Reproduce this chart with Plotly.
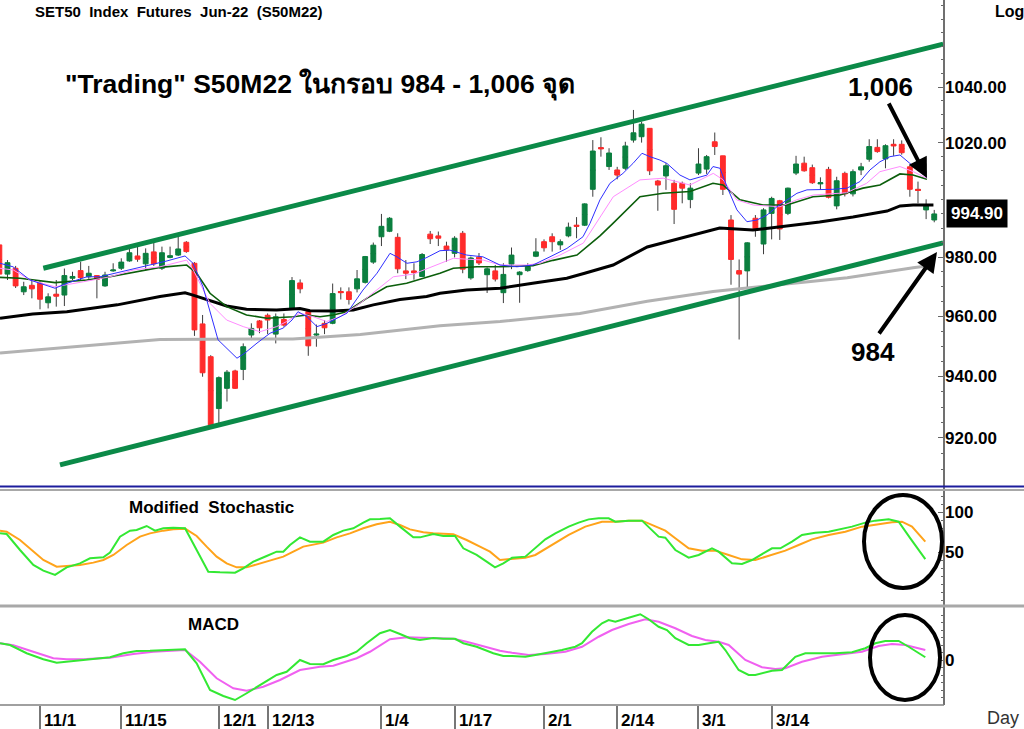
import math
import plotly.graph_objects as go

# ---------------- data ----------------
day_idx = list(range(116))
open_ = [984.2, 974.2, 976.2, 968.2, 970.4, 971.1, 964.5, 967.4, 967.1, 972.8,
         975.4, 973.3, 973.7, 970.2, 975.3, 976.2, 978.7, 980.4, 977.7, 981.8,
         976.2, 979.9, 980.7, 985.1, 977.9, 957.4, 946.5, 929.5, 936.1, 941.8,
         942.3, 953.7, 958.4, 960.3, 954.0, 958.9, 962.6, 971.2, 961.5, 953.7,
         957.6, 957.6, 968.3, 968.2, 969.2, 971.4, 978.3, 987.0, 988.9, 986.8,
         975.3, 975.3, 973.4, 987.9, 987.3, 983.8, 981.3, 988.2, 972.9, 980.0,
         974.0, 975.3, 967.9, 977.6, 974.0, 975.4, 980.3, 985.3, 987.0, 984.2,
         987.3, 991.0, 991.0, 1003.5, 1018.2, 1011.5, 1010.3, 1010.9, 1020.9, 1022.1,
         1025.1, 1006.4, 1008.2, 1005.6, 1005.6, 999.9, 1009.2, 1010.6, 1020.3, 1015.3,
         992.8, 975.4, 975.3, 993.4, 984.5, 995.1, 999.5, 995.1, 1009.2, 1012.7,
         1011.1, 1005.4, 1010.5, 997.7, 1009.1, 1001.9, 1010.3, 1014.1, 1018.3, 1014.2,
         1019.4, 1019.4, 1011.4, 1003.5, 996.3, 992.8]
high = [985.5, 979.0, 977.0, 971.6, 972.2, 971.8, 967.7, 972.2, 976.1, 975.0,
        978.4, 977.0, 973.9, 975.0, 977.9, 979.6, 983.0, 983.6, 983.0, 984.9,
        983.6, 983.6, 987.0, 985.5, 978.3, 960.4, 947.0, 940.0, 942.1, 942.2,
        950.9, 957.6, 958.7, 960.9, 960.9, 960.9, 973.2, 972.4, 961.8, 957.2,
        958.7, 971.0, 969.7, 969.7, 975.6, 980.4, 985.0, 994.9, 993.8, 988.2,
        979.0, 977.9, 981.4, 989.0, 988.8, 985.3, 987.2, 989.0, 980.2, 981.4,
        976.5, 977.3, 977.9, 983.3, 975.2, 977.9, 986.5, 986.1, 988.2, 986.1,
        991.9, 993.8, 998.6, 1020.9, 1021.9, 1018.0, 1011.4, 1020.3, 1031.7, 1027.5,
        1025.2, 1006.8, 1012.7, 1006.8, 1006.2, 1005.6, 1018.0, 1015.6, 1023.6, 1015.3,
        994.5, 979.2, 985.1, 994.5, 996.9, 1000.9, 999.8, 1004.1, 1015.3, 1015.0,
        1012.2, 1007.7, 1011.4, 1007.9, 1009.7, 1010.5, 1012.8, 1021.2, 1021.2, 1019.4,
        1021.2, 1020.8, 1012.1, 1006.2, 1000.0, 996.3]
low = [973.5, 972.2, 969.5, 967.1, 966.0, 962.3, 962.6, 963.2, 963.4, 972.2,
       972.2, 972.6, 966.0, 969.9, 975.0, 975.6, 978.4, 978.4, 975.4, 977.0,
       975.6, 979.6, 980.4, 981.5, 953.4, 939.9, 923.8, 924.2, 931.8, 935.9,
       938.8, 952.0, 954.3, 954.0, 950.9, 956.5, 962.1, 967.7, 946.8, 949.8,
       954.0, 957.3, 965.6, 963.9, 968.0, 971.0, 977.7, 983.8, 988.6, 974.5,
       972.5, 972.3, 973.2, 984.5, 983.8, 978.4, 979.9, 974.5, 972.3, 977.3,
       967.8, 971.7, 964.4, 975.9, 964.5, 975.0, 980.0, 981.9, 981.9, 982.5,
       986.8, 986.5, 990.7, 1000.9, 1015.0, 1010.3, 1007.0, 1010.3, 1020.0, 1020.0,
       1008.5, 996.0, 1003.3, 991.4, 998.6, 996.9, 1008.5, 1008.9, 1015.6, 1001.5,
       970.6, 952.2, 969.5, 987.0, 981.0, 986.1, 985.9, 994.5, 1008.5, 1009.7,
       1005.4, 1003.3, 1000.3, 996.5, 1001.0, 1001.0, 1008.5, 1013.2, 1016.4, 1010.9,
       1015.3, 1015.7, 1000.9, 998.6, 993.1, 992.0]
close = [974.2, 978.1, 970.2, 969.9, 969.2, 965.7, 966.5, 966.7, 973.7, 973.4,
         973.0, 974.5, 972.4, 973.9, 975.6, 978.3, 981.5, 979.3, 981.3, 977.7,
         981.5, 980.5, 982.8, 981.9, 955.4, 941.2, 924.2, 939.6, 941.4, 936.1,
         949.8, 955.9, 956.1, 958.7, 959.8, 957.0, 972.0, 969.2, 950.1, 954.0,
         956.1, 967.6, 967.9, 965.6, 972.6, 980.2, 984.1, 990.6, 993.4, 976.0,
         974.5, 974.7, 980.9, 986.3, 986.5, 982.5, 986.5, 975.9, 979.7, 978.0,
         976.0, 972.5, 974.1, 980.7, 974.9, 976.8, 981.8, 983.2, 985.3, 985.3,
         990.3, 990.6, 998.4, 1017.0, 1017.8, 1016.3, 1008.5, 1018.8, 1023.5, 1026.6,
         1010.0, 1005.0, 1011.8, 996.5, 1003.9, 1003.9, 1012.4, 1015.0, 1018.6, 1003.5,
         979.2, 974.2, 984.9, 989.7, 996.3, 1000.3, 989.7, 1003.9, 1012.4, 1010.0,
         1005.8, 1005.8, 1000.7, 1006.5, 1001.9, 1009.7, 1011.4, 1018.6, 1016.8, 1018.9,
         1018.8, 1016.4, 1003.5, 1003.1, 997.7, 994.9]

tick_idx = [5, 15, 27, 33, 47, 56, 67, 76, 86, 95]
tick_labels = ["11/1", "11/15", "12/1", "12/13", "1/4", "1/17", "2/1", "2/14", "3/1", "3/14"]

# moving averages
blue_x = [0.08, 1.68, 3.77, 6.85, 8.32, 10.78, 12.38, 13.6, 16.07, 18.16, 20.62, 22.84, 23.82, 25.05, 26.9,
          29.23, 30.2, 31.69, 33.3, 34.9, 36.0, 36.73, 37.84, 39.07, 40.3, 41.53, 42.76, 44.73, 46.45, 48.05,
          48.91, 50.14, 51.37, 52.6, 54.2, 55.43, 56.66, 57.5, 59.49, 61.58, 63.67, 65.64, 67.73, 69.82, 71.79,
          72.65, 73.88, 75.11, 76.71, 77.94, 79.05, 80.03, 81.26, 82.12, 83.72, 84.95, 87.04, 87.78, 88.64, 89.5,
          90.73, 91.96, 93.19, 94.42, 95.65, 96.88, 98.11, 99.34, 100.94, 102.54, 104.26, 105.86, 107.09, 108.32,
          109.55, 110.78, 112.01, 113.24, 114.1]
blue_y = [977.9, 976.7, 972.2, 969.4, 971.1, 973.3, 973.3, 974.1, 975.6, 977.0, 978.7, 980.4, 977.9, 969.9, 952.1,
          946.0, 947.7, 951.0, 954.3, 956.0, 958.7, 961.5, 959.8, 956.5, 957.6, 959.3, 961.0, 968.8, 974.5, 981.3,
          980.1, 977.9, 978.4, 979.9, 982.2, 982.4, 981.3, 980.7, 980.1, 977.3, 976.7, 977.3, 980.1, 983.0, 987.0,
          991.6, 999.8, 1005.6, 1009.1, 1012.6, 1016.2, 1015.0, 1013.8, 1012.6, 1008.5, 1006.8, 1008.5, 1011.5, 1010.9, 1004.4,
          996.3, 992.2, 992.8, 994.5, 997.4, 999.8, 1002.1, 1003.3, 1003.3, 1003.5, 1003.9, 1006.2, 1010.3, 1013.2,
          1015.0, 1015.6, 1012.6, 1009.7, 1007.7]
pink_x = [0.08, 1.72, 3.77, 6.85, 10.33, 13.61, 16.48, 19.76, 23.04, 23.86, 25.91, 27.96, 30.0, 32.06, 34.11,
          35.35, 36.98, 38.62, 40.26, 41.9, 44.36, 46.41, 48.46, 50.92, 54.2, 55.84, 57.48, 59.53, 61.58, 64.86,
          66.5, 68.96, 71.83, 73.88, 75.52, 78.8, 81.67, 84.95, 87.82, 89.05, 90.7, 92.74, 96.02, 98.07, 100.12,
          104.23, 106.68, 108.32, 110.78, 112.42, 114.06]
pink_y = [976.2, 975.6, 972.2, 969.9, 971.6, 973.3, 975.6, 976.7, 979.0, 975.6, 964.3, 958.7, 956.5, 954.8, 956.5,
          958.2, 961.0, 959.8, 958.2, 959.8, 964.3, 968.8, 973.3, 974.2, 977.9, 979.6, 979.3, 979.0, 977.3, 977.3,
          977.9, 980.7, 984.8, 993.9, 1000.9, 1006.8, 1007.4, 1005.0, 1009.1, 1006.8, 999.8, 998.0, 997.4, 999.8, 1001.5,
          1002.3, 1005.6, 1009.7, 1011.5, 1009.7, 1007.4]
dgreen_x = [0.08, 2.54, 6.85, 10.74, 13.61, 16.44, 19.76, 23.04, 24.27, 25.91, 27.96, 30.4, 32.9, 36.16, 37.8,
            39.44, 41.08, 42.72, 45.18, 47.64, 50.1, 54.2, 55.84, 58.75, 61.58, 65.64, 68.1, 71.05, 73.88, 75.48,
            78.8, 81.63, 84.95, 87.78, 89.01, 91.1, 93.93, 96.88, 100.08, 103.4, 106.23, 108.32, 110.78, 112.38, 114.1]
dgreen_y = [973.1, 972.8, 971.3, 972.2, 973.3, 974.7, 976.5, 977.3, 974.5, 967.7, 963.2, 960.4, 959.3, 959.8, 960.4,
            959.8, 960.4, 961.5, 966.0, 969.9, 971.1, 974.5, 976.2, 976.7, 976.7, 977.1, 978.9, 980.7, 987.3, 991.6,
            1000.9, 1002.1, 1002.7, 1005.6, 1005.0, 999.8, 998.0, 998.0, 1000.9, 1001.5, 1003.9, 1005.0, 1008.9, 1008.5, 1007.0]
black_x = [0.08, 4.1, 8.3, 14.5, 19.76, 22.84, 23.82, 25.91, 27.96, 30.4, 34.1, 36.98, 38.2, 41.08, 43.54,
           46.0, 49.28, 52.56, 54.2, 57.5, 61.6, 65.6, 69.8, 72.0, 75.5, 79.7, 84.6, 88.6, 92.7, 96.9,
           100.9, 105.0, 109.2, 110.8, 112.4, 114.9]
black_y = [959.3, 960.7, 961.5, 963.8, 966.6, 967.9, 967.1, 965.2, 963.4, 962.3, 962.1, 962.6, 961.8, 961.7, 962.1,
           963.8, 965.6, 966.6, 967.7, 968.8, 969.4, 971.1, 972.8, 974.5, 977.3, 983.5, 987.0, 990.0, 989.3, 990.7,
           992.1, 993.8, 995.9, 997.7, 998.0, 998.0]
gray_x = [0.08, 19.76, 36.1, 44.4, 54.2, 61.6, 71.4, 79.7, 87.8, 96.0, 104.3, 112.4, 115.0]
gray_y = [947.7, 952.2, 952.4, 953.9, 956.8, 958.2, 960.9, 965.0, 968.3, 970.6, 973.0, 976.4, 977.3]

# trend channel end points
chan_up_x = [5.41, 116.1]
chan_up_y = [976.2, 1055.7]
chan_lo_x = [7.46, 116.1]
chan_lo_y = [911.4, 984.9]

# modified stochastic
stk_x = [0.08, 0.9, 2.54, 4.18, 5.41, 6.85, 8.28, 9.92, 11.15, 12.79, 13.61, 14.84, 16.07, 16.89, 18.12,
         19.15, 20.17, 21.4, 22.84, 24.27, 25.7, 27.14, 28.99, 30.01, 31.24, 32.88, 34.11, 34.93, 35.75, 36.98,
         38.21, 39.85, 41.08, 42.31, 43.54, 44.77, 45.59, 46.82, 48.05, 49.28, 50.92, 51.74, 53.38, 54.61, 56.05,
         57.07, 58.71, 59.94, 60.97, 61.99, 63.06, 64.7, 65.93, 67.16, 68.39, 70.03, 71.26, 72.49, 73.72, 74.95,
         75.77, 77.41, 79.05, 80.28, 81.1, 81.92, 83.15, 84.79, 86.02, 87.66, 88.48, 90.12, 91.35, 92.58, 93.81,
         95.04, 96.07, 97.5, 98.73, 100.37, 102.01, 103.24, 104.88, 106.52, 107.75, 109.39, 110.62, 112.06, 113.9]
stk_y = [73.3, 72.5, 52.5, 33.8, 26.7, 21.3, 30.8, 35.8, 42.1, 43.3, 49.2, 69.2, 76.7, 77.5, 82.5,
         76.7, 79.6, 80.4, 79.6, 52.5, 25.4, 24.6, 24.2, 29.6, 37.9, 45.0, 50.4, 50.4, 58.8, 68.3,
         62.9, 62.9, 71.3, 76.7, 79.6, 86.7, 90.8, 91.3, 92.1, 81.7, 68.3, 68.3, 72.5, 70.0, 70.0,
         54.6, 46.3, 37.9, 30.8, 35.8, 42.7, 44.2, 54.6, 65.8, 73.3, 81.7, 86.7, 90.8, 92.1, 92.1,
         87.9, 89.2, 89.2, 77.5, 69.2, 67.9, 52.5, 42.9, 46.3, 54.6, 50.4, 35.8, 35.0, 40.0, 47.5,
         54.6, 54.6, 62.9, 71.3, 74.2, 75.4, 78.3, 81.7, 86.7, 89.2, 90.8, 87.9, 67.1, 41.2]
std_x = [0.08, 0.9, 2.54, 4.18, 5.41, 7.05, 8.28, 9.92, 11.56, 12.79, 14.02, 15.66, 17.3, 18.53, 20.17,
         21.4, 22.84, 24.27, 25.5, 26.73, 27.96, 29.19, 30.42, 32.06, 33.7, 34.93, 36.16, 37.39, 39.85, 41.49,
         43.13, 44.77, 46.41, 48.05, 49.28, 50.51, 52.15, 53.38, 55.84, 57.48, 59.12, 60.35, 61.58, 63.06, 64.7,
         65.93, 67.98, 70.03, 72.08, 74.13, 75.77, 77.41, 79.05, 80.28, 81.92, 83.15, 84.79, 86.43, 88.07, 89.71,
         91.35, 92.99, 95.04, 96.68, 98.32, 99.96, 102.01, 104.06, 106.11, 108.16, 109.8, 111.03, 112.26, 113.9]
std_y = [76.7, 75.4, 65.0, 50.4, 40.0, 31.7, 32.5, 33.8, 36.7, 40.0, 46.3, 58.8, 69.2, 73.3, 76.7,
         78.3, 79.2, 70.0, 56.7, 44.2, 35.8, 30.8, 30.8, 35.8, 41.3, 44.2, 50.4, 56.7, 61.7, 68.3,
         73.3, 79.6, 84.6, 87.9, 83.8, 78.3, 74.6, 73.3, 72.1, 65.0, 56.7, 50.4, 40.0, 41.5, 42.9,
         46.3, 58.8, 71.3, 81.7, 87.9, 87.9, 89.2, 89.2, 83.8, 76.7, 67.1, 54.6, 51.7, 51.7, 46.3,
         40.8, 40.0, 46.3, 51.7, 58.8, 65.8, 71.3, 75.4, 81.7, 85.0, 87.1, 87.9, 81.7, 62.9]

# MACD
macd_x = [0.08, 1.31, 3.36, 5.41, 7.05, 8.28, 9.92, 11.97, 13.61, 15.25, 16.89, 18.53, 20.58, 22.84, 24.27,
          25.91, 27.55, 28.99, 30.42, 32.47, 34.11, 35.34, 36.98, 38.21, 39.85, 41.08, 42.72, 43.95, 45.18, 46.82,
          48.05, 49.28, 50.51, 51.74, 53.38, 54.61, 56.05, 57.07, 58.71, 60.76, 61.99, 63.06, 64.7, 65.93, 67.16,
          69.21, 70.85, 71.67, 72.9, 74.13, 74.95, 75.77, 77.41, 78.84, 79.87, 81.1, 82.12, 83.15, 84.79, 86.02,
          87.66, 88.48, 89.3, 90.94, 92.17, 92.99, 95.04, 96.27, 97.91, 99.14, 101.19, 102.83, 104.88, 106.52,
          107.75, 108.98, 110.62, 111.85, 113.9]
macd_y = [6.7, 6.0, 2.7, 0.3, -1.1, -0.7, 0.0, 0.5, 1.1, 2.7, 3.6, 3.7, 4.0, 4.3, -1.3,
          -12.0, -14.4, -16.0, -13.3, -9.3, -6.0, -4.7, 0.0, -1.6, -1.7, 0.0, 1.6, 3.3, 6.7, 10.7,
          12.0, 10.4, 8.7, 8.0, 8.8, 8.5, 8.5, 6.7, 5.3, 2.7, 1.6, 1.6, 1.3, 2.0, 2.7,
          4.0, 5.3, 6.7, 11.3, 14.7, 16.0, 15.3, 16.9, 18.3, 16.3, 13.3, 12.0, 8.7, 6.0, 6.0,
          6.9, 7.3, 4.0, -4.0, -6.0, -6.0, -4.3, -4.0, 1.3, 2.7, 2.7, 2.7, 3.1, 4.7,
          6.7, 7.6, 7.6, 5.3, 1.1]
sig_x = [0.08, 1.72, 4.18, 6.64, 8.28, 10.74, 13.61, 16.48, 18.94, 21.4, 22.84, 24.68, 26.73, 28.78, 30.42,
         32.47, 34.52, 36.98, 39.44, 41.08, 43.95, 45.59, 48.05, 50.1, 53.38, 55.84, 57.48, 59.94, 61.58, 63.06,
         65.11, 67.16, 69.62, 71.67, 73.72, 75.36, 77.41, 79.46, 81.1, 83.15, 85.2, 86.84, 88.48, 89.71, 91.76,
         93.81, 95.45, 96.68, 98.73, 101.19, 104.06, 106.11, 108.16, 109.8, 111.44, 113.9]
sig_y = [6.7, 5.9, 3.3, 0.7, 0.3, 0.4, 0.9, 2.4, 3.3, 3.9, 4.0, -0.7, -7.3, -11.3, -12.3,
         -10.7, -8.0, -4.0, -2.7, -2.3, 0.7, 3.3, 8.3, 9.1, 8.7, 8.5, 7.3, 5.3, 3.7, 2.9,
         2.0, 2.4, 3.3, 5.3, 9.3, 12.0, 14.4, 16.3, 15.3, 12.7, 9.6, 8.0, 7.3, 6.0, 0.0,
         -2.9, -3.6, -3.3, -0.7, 1.3, 2.4, 3.3, 5.6, 6.4, 6.0, 4.0]

# ---------------- figure ----------------
FONT = "Liberation Sans, Arial, Noto Sans, sans-serif"
W, H = 1024, 729
PW, PH = 944, 705          # plot area size in pixels


def px(xp):
    return xp / PW


def py(yp):
    return 1 - yp / PH


fig = go.Figure()

mid = [(o + c) / 2 for o, c in zip(open_, close)]
body_hi = [max(o, c) for o, c in zip(open_, close)]
body_lo = [min(o, c) for o, c in zip(open_, close)]

# wicks (gray) drawn first, coloured bodies on top
fig.add_trace(go.Candlestick(
    x=day_idx, open=mid, high=high, low=low, close=mid,
    increasing=dict(line=dict(color="#3c3c3c", width=1), fillcolor="#3c3c3c"),
    decreasing=dict(line=dict(color="#3c3c3c", width=1), fillcolor="#3c3c3c"),
    whiskerwidth=0, hoverinfo="skip", showlegend=False, xaxis="x", yaxis="y"))
fig.add_trace(go.Candlestick(
    x=day_idx, open=open_, high=body_hi, low=body_lo, close=close,
    increasing=dict(line=dict(color="#0b7f3f", width=1), fillcolor="#0b7f3f"),
    decreasing=dict(line=dict(color="#ff2b2b", width=1), fillcolor="#ff2b2b"),
    whiskerwidth=0, hoverinfo="skip", showlegend=False, xaxis="x", yaxis="y"))

for xs, ys, col, wd in [(gray_x, gray_y, "#b2b2b2", 3),
                        (black_x, black_y, "#000000", 3),
                        (dgreen_x, dgreen_y, "#0b5e0b", 1.6),
                        (pink_x, pink_y, "#ff8cff", 1),
                        (blue_x, blue_y, "#2f2fff", 1)]:
    fig.add_trace(go.Scatter(x=xs, y=ys, mode="lines", line=dict(color=col, width=wd),
                             hoverinfo="skip", showlegend=False, xaxis="x", yaxis="y"))

for xs, ys in [(chan_up_x, chan_up_y), (chan_lo_x, chan_lo_y)]:
    fig.add_trace(go.Scatter(x=xs, y=ys, mode="lines", line=dict(color="#0b8a48", width=5),
                             hoverinfo="skip", showlegend=False, xaxis="x", yaxis="y"))

fig.add_trace(go.Scatter(x=std_x, y=std_y, mode="lines", line=dict(color="#ffa31a", width=2),
                         hoverinfo="skip", showlegend=False, xaxis="x2", yaxis="y2"))
fig.add_trace(go.Scatter(x=stk_x, y=stk_y, mode="lines", line=dict(color="#33e833", width=2),
                         hoverinfo="skip", showlegend=False, xaxis="x2", yaxis="y2"))
fig.add_trace(go.Scatter(x=sig_x, y=sig_y, mode="lines", line=dict(color="#f060f0", width=2),
                         hoverinfo="skip", showlegend=False, xaxis="x3", yaxis="y3"))
fig.add_trace(go.Scatter(x=macd_x, y=macd_y, mode="lines", line=dict(color="#33e833", width=2),
                         hoverinfo="skip", showlegend=False, xaxis="x3", yaxis="y3"))

xr = [0.08, 116.2]
common_x = dict(range=xr, showgrid=False, zeroline=False, showline=False, showticklabels=False)
bold = lambda s: "<b>" + s + "</b>"

main_ticks = [920, 940, 960, 980, 1020, 1040]
main_minor = [v for v in range(905, 1075, 5) if v not in main_ticks]

fig.update_layout(
    width=W, height=H, margin=dict(l=0, r=W - PW, t=0, b=H - PH),
    paper_bgcolor="white", plot_bgcolor="white",
    font=dict(family=FONT, color="black"),
    showlegend=False, boxgap=0.15, boxmode="overlay",
    xaxis=dict(common_x, anchor="y", rangeslider=dict(visible=False)),
    xaxis2=dict(common_x, anchor="y2", matches="x"),
    xaxis3=dict(common_x, anchor="y3", matches="x", ticks="outside", tickvals=tick_idx,
                ticklen=24, tickwidth=1.5, tickcolor="#777777"),
    yaxis=dict(domain=[py(486), 1], type="log",
               range=[math.log10(904.7), math.log10(1072.1)], side="right", anchor="x",
               tickvals=main_ticks, ticktext=[bold(f"{v:.2f}") for v in main_ticks],
               ticks="inside", ticklen=6, tickcolor="#666666",
               tickfont=dict(size=17, family=FONT, color="black"),
               minor=dict(tickvals=main_minor, ticks="inside", ticklen=3, tickcolor="#666666"),
               showgrid=False, zeroline=False, showline=False),
    yaxis2=dict(domain=[py(606), py(490)], range=[-17.5, 127.5], side="right", anchor="x2",
                tickvals=[50, 100], ticktext=[bold("50"), bold("100")],
                ticks="inside", ticklen=6, tickcolor="#666666",
                tickfont=dict(size=17, family=FONT, color="black"),
                minor=dict(tickvals=[-10, 0, 10, 20, 30, 40, 60, 70, 80, 90, 110, 120],
                           ticks="inside", ticklen=3, tickcolor="#666666"),
                showgrid=False, zeroline=False, showline=False),
    yaxis3=dict(domain=[0, py(607)], range=[-18.0, 21.2], side="right", anchor="x3",
                tickvals=[0], ticktext=[bold("0")],
                ticks="inside", ticklen=6, tickcolor="#666666",
                tickfont=dict(size=17, family=FONT, color="black"),
                minor=dict(tickvals=[-15, -12, -9, -6, -3, 3, 6, 9, 12, 15, 18, 21],
                           ticks="inside", ticklen=3, tickcolor="#666666"),
                showgrid=False, zeroline=False, showline=False),
)

shapes = [
    dict(type="line", xref="paper", yref="paper", x0=1, x1=1, y0=0, y1=1,
         line=dict(color="#707070", width=2)),
    dict(type="line", xref="paper", yref="paper", x0=0, x1=W / PW, y0=py(486.5), y1=py(486.5),
         line=dict(color="#1c1c9c", width=2)),
    dict(type="line", xref="paper", yref="paper", x0=0, x1=W / PW, y0=py(490), y1=py(490),
         line=dict(color="#a8a8a8", width=2)),
    dict(type="line", xref="paper", yref="paper", x0=0, x1=W / PW, y0=py(606), y1=py(606),
         line=dict(color="#a8a8a8", width=3)),
    dict(type="line", xref="paper", yref="paper", x0=0, x1=1, y0=0, y1=0,
         line=dict(color="#808080", width=1.5)),
    dict(type="circle", xref="paper", yref="paper", x0=px(864), x1=px(942), y0=py(588), y1=py(495),
         line=dict(color="black", width=4)),
    dict(type="circle", xref="paper", yref="paper", x0=px(870), x1=px(940), y0=py(700), y1=py(615),
         line=dict(color="black", width=4)),
]
fig.update_layout(shapes=shapes)

NB = "\u00a0"
ann = [
    dict(text=bold(f"SET50{NB*2}Index{NB*2}Futures{NB*2}Jun-22{NB*2}(S50M22)"),
         x=px(33), y=py(11), xanchor="left", yanchor="middle", font=dict(size=15)),
    dict(text=bold('"Trading" S50M22 ในกรอบ 984 - 1,006 จุด'),
         x=px(63), y=py(85), xanchor="left", yanchor="middle", font=dict(size=26.5)),
    dict(text=bold("1,006"), x=px(880), y=py(87), xanchor="center", yanchor="middle", font=dict(size=26)),
    dict(text=bold("984"), x=px(873), y=py(352), xanchor="center", yanchor="middle", font=dict(size=26)),
    dict(text="", x=px(927), y=py(178), ax=888 - 927, ay=102 - 178, showarrow=True,
         arrowhead=2, arrowsize=1, arrowwidth=4, arrowcolor="black"),
    dict(text="", x=px(937), y=py(252), ax=878 - 937, ay=335 - 252, showarrow=True,
         arrowhead=2, arrowsize=1, arrowwidth=4, arrowcolor="black"),
    dict(text=bold("Log"), x=px(993), y=py(11), xanchor="left", yanchor="middle", font=dict(size=16)),
    dict(text="Day", x=px(985), y=py(718), xanchor="left", yanchor="middle",
         font=dict(size=18, color="#333333")),
    dict(text=bold(f"Modified{NB*2}Stochastic"), x=px(127), y=py(507), xanchor="left",
         yanchor="middle", font=dict(size=17)),
    dict(text=bold("MACD"), x=px(186), y=py(624), xanchor="left", yanchor="middle", font=dict(size=17)),
    dict(text=bold(f"{close[-1]:.2f}"), xref="paper", yref="y", x=px(946), y=math.log10(close[-1]),
         xanchor="left", yanchor="middle", bgcolor="black", borderpad=4,
         font=dict(size=17, color="white")),
]
for a in ann:
    a.setdefault("xref", "paper")
    a.setdefault("yref", "paper")
    a.setdefault("showarrow", False)

for t, lab in zip(tick_idx, tick_labels):
    ann.append(dict(text=bold(lab), xref="x3", yref="paper", x=t, y=py(720), xanchor="left",
                    yanchor="middle", xshift=2, showarrow=False, font=dict(size=17)))

fig.update_layout(annotations=ann)
fig.write_html("out.html", config={"displayModeBar": False},
               post_script="document.body.style.margin='0';document.body.style.overflow='hidden';")
